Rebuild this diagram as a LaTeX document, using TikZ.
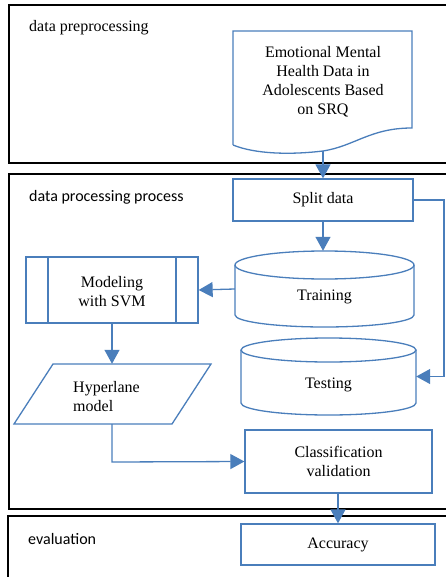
\documentclass[tikz,border=0pt]{standalone}
\usepackage{fontspec}
\setmainfont{Liberation Serif}
\newfontfamily\serifont{Liberation Serif}
\newfontfamily\lblfont{Carlito}
\usetikzlibrary{arrows.meta}
\definecolor{myblue}{RGB}{74,126,187}
\tikzset{
  frame/.style={draw=black, line width=1.4pt},
  bshape/.style={draw=myblue, line width=1.3pt},
  box/.style={bshape, rectangle, inner sep=0pt, align=center},
  ghost/.style={rectangle, inner sep=0pt},
  txt/.style={inner sep=0pt, align=center, font=\serifont\fontsize{16}{19}\selectfont},
  lbl/.style={inner sep=0pt, anchor=west, font=\serifont\fontsize{16}{19}\selectfont},
  arr/.style={draw=myblue, line width=1.3pt, -{Triangle[width=15pt,length=14pt]}},
}
\begin{document}
\begin{tikzpicture}[x=1pt,y=-1pt]
\useasboundingbox (0,0) rectangle (446,577);
\clip (0,0) rectangle (446,577);
% frames
\draw[frame] (9,5) rectangle (470,163);
\draw[frame] (9,174) rectangle (470,509);
\draw[frame] (8,516) rectangle (470,600);
\node[lbl] (l1) at (29,27.5) {data preprocessing};
\node[lbl, font=\lblfont\fontsize{16}{19}\selectfont] (l2) at (29,197) {data processing process};
\node[lbl, font=\lblfont\fontsize{16}{19}\selectfont] (l3) at (28,539) {evaluation};
% document shape
\draw[bshape] (233,145) -- (233,31) -- (412,31) -- (412,128)
  .. controls (370,128) and (355,146) .. (323,151)
  .. controls (290,155) and (255,154) .. (233,145);
\coordinate (docb) at (323,151);
\node[txt] (doc) at (323,82) {Emotional Mental\\Health Data in\\Adolescents Based\\on SRQ};
% split
\node[box, txt, bshape, minimum width=180pt, minimum height=42pt] (split) at (323,200) {Split data};
% training cylinder
\node[ghost, minimum width=179pt, minimum height=76pt] (train) at (324.5,289) {};
\draw[bshape] (324.5,265) ellipse [x radius=89.5pt, y radius=14pt];
\draw[bshape] (235,265) -- (235,315) arc[start angle=180, end angle=360, x radius=89.5pt, y radius=12pt] -- (414,265);
\node[txt] (trainl) at (324.5,297) {Training};
% testing cylinder
\node[ghost, minimum width=175pt, minimum height=77pt] (test) at (328.5,376.5) {};
\draw[bshape] (328.5,350) ellipse [x radius=87.5pt, y radius=12pt];
\draw[bshape] (241,350) -- (241,403) arc[start angle=180, end angle=360, x radius=87.5pt, y radius=12pt] -- (416,350);
\node[txt] (testl) at (328.5,385) {Testing};
% svm
\node[box, minimum width=172pt, minimum height=66pt] (svm) at (112,290) {};
\draw[bshape] (48,257) -- (48,323);
\draw[bshape] (176,257) -- (176,323);
\node[txt] (svml) at (112,292) {Modeling\\with SVM};
% hyperlane
\node[ghost, minimum width=120pt, minimum height=60pt] (hyp) at (112,394) {};
\draw[bshape] (53,364) -- (211,364) -- (172,424) -- (14,424) -- cycle;
\node[txt, align=left, anchor=west] (hypl) at (73,397) {Hyperlane\\model};
% classification
\node[box, txt, minimum width=187pt, minimum height=63pt] (cls) at (338.5,461.5) {Classification\\validation};
% accuracy
\node[box, txt, minimum width=194pt, minimum height=41pt] (acc) at (338,544.5) {Accuracy};
% arrows
\draw[arr] (docb) -- (split.north);
\draw[arr] (split.south) -- (split.south |- train.north);
\draw[arr] (train.west) -- (svm.east);
\draw[arr] (split.east) -- (444,200) |- (test.east);
\draw[arr] (svm.south) -- (svm.south |- hyp.north);
\draw[arr] (hyp.south) -- (112,462) -- (cls.west);
\draw[arr] (cls.south -| acc.north) -- (acc.north);
\end{tikzpicture}
\end{document}
